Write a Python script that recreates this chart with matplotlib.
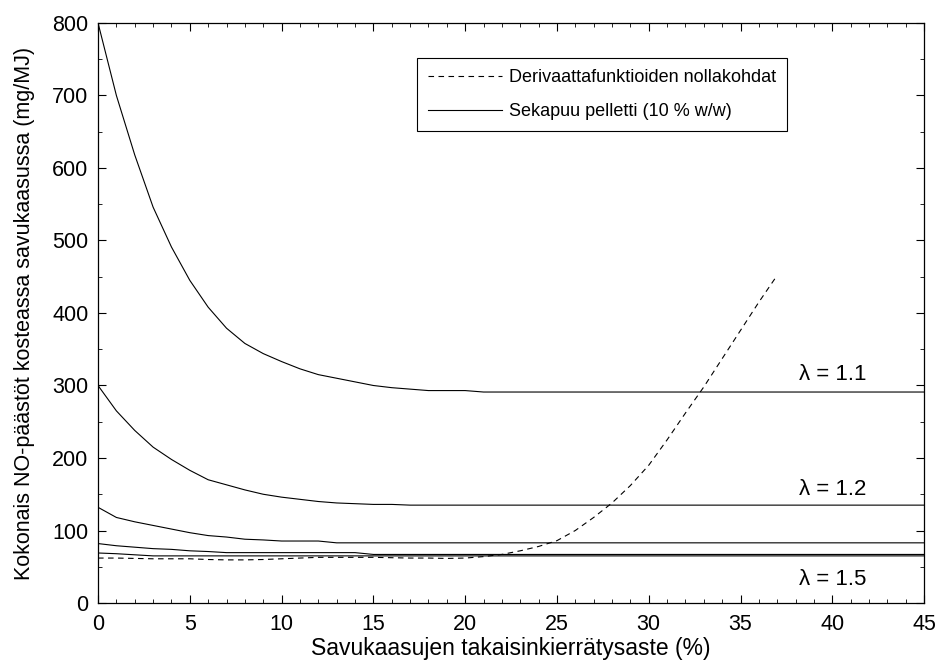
import matplotlib
matplotlib.use('Agg')
import matplotlib.pyplot as plt
from matplotlib.ticker import MultipleLocator

plt.rcParams['font.family'] = ['Liberation Sans', 'DejaVu Sans']

# kierrätysaste (%)
x = list(range(0, 46))

# NO-päästöt eri ilmakertoimilla (mg/MJ)
no_l11 = [800, 700, 618, 546, 491, 445, 408, 379, 358, 344, 333, 323, 315, 310, 305, 300,
          297, 295, 293, 293, 293, 291] + [291] * 24
no_l12 = [300, 265, 238, 215, 198, 183, 170, 163, 156, 150, 146, 143, 140, 138, 137, 136,
          136, 135] + [135] * 28
no_l13 = [132, 118, 112, 107, 102, 97, 93, 91, 88, 87, 85.5, 85.5, 85.5, 83] + [83] * 32
no_l14 = [82, 79, 77, 75, 74, 72, 71, 69.5, 69.5, 69.5, 69.5, 69.5, 69.5, 69.5, 69.5,
          67] + [67] * 30
no_l15 = [69, 68, 66.5, 65] + [65] * 42
curves = [no_l11, no_l12, no_l13, no_l14, no_l15]

# derivaattafunktioiden nollakohdat
x_der = list(range(0, 38))
no_der = [62, 62, 61.5, 61, 61, 61, 60, 59.5, 59.5, 60, 61, 62, 63, 63, 63, 63, 62.5, 62,
          62, 61.5, 62, 64, 67, 72, 78, 86, 100, 118, 138, 162, 190, 225, 262, 298, 337,
          376, 415, 452]

lambda_labels = ['\u03bb = 1.1', '\u03bb = 1.2', '\u03bb = 1.5']
lambda_y = [315, 157, 32]

fig = plt.figure(figsize=(9.39, 6.62), dpi=100)
ax = fig.add_axes([0.1044, 0.0891, 0.8797, 0.8762])

ax.plot(x_der, no_der, color='black', linestyle=(0, (5, 4)), linewidth=0.8,
        label='Derivaattafunktioiden nollakohdat')
for i, c in enumerate(curves):
    ax.plot(x, c, color='black', linewidth=0.8,
            label='Sekapuu pelletti (10 % w/w)' if i == 0 else None)

for lab, yy in zip(lambda_labels, lambda_y):
    ax.text(40, yy, lab, ha='center', va='center', fontsize=16)

ax.set_xlim(0, 45)
ax.set_ylim(0, 800)
ax.xaxis.set_major_locator(MultipleLocator(5))
ax.xaxis.set_minor_locator(MultipleLocator(1))
ax.yaxis.set_major_locator(MultipleLocator(100))
ax.yaxis.set_minor_locator(MultipleLocator(50))
ax.tick_params(which='both', direction='in', top=True, right=True, labelsize=15.5)
ax.tick_params(which='major', length=6, width=0.8)
ax.tick_params(axis='x', which='major', pad=8)
ax.tick_params(axis='y', which='major', pad=7)
ax.tick_params(which='minor', length=3, width=0.6)
for s in ax.spines.values():
    s.set_linewidth(0.9)

ax.set_xlabel('Savukaasujen takaisinkierrätysaste (%)', fontsize=16.5, labelpad=1)
ax.set_ylabel('Kokonais NO-päästöt kosteassa savukaasussa (mg/MJ)', fontsize=15.5, labelpad=12)

leg = ax.legend(loc='upper left', bbox_to_anchor=(0.386, 0.939), fontsize=13,
                handlelength=4.1, handletextpad=0.4, borderpad=0.6, labelspacing=0.95,
                borderaxespad=0, fancybox=False, framealpha=1)
leg.get_frame().set_edgecolor('black')
leg.get_frame().set_linewidth(0.8)

plt.savefig('out.png', dpi=100)
plt.close()
